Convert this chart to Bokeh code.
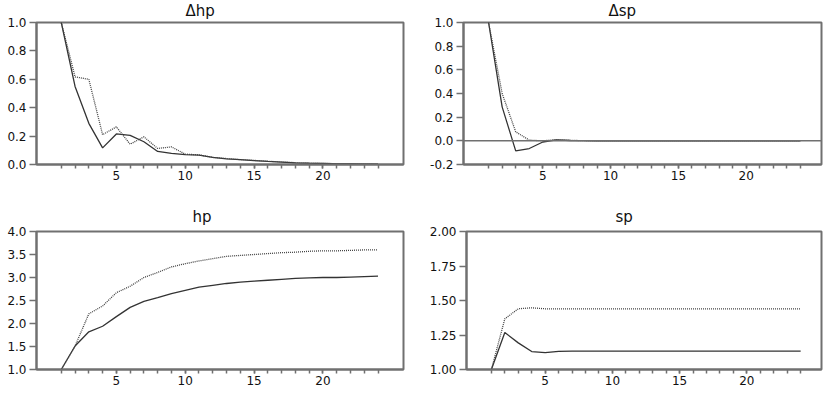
from bokeh.plotting import figure
from bokeh.layouts import column, row
from bokeh.models import Range1d, FixedTicker, Span, Title, NumeralTickFormatter
from bokeh.embed import file_html
from bokeh.resources import INLINE

# ---------------- data ----------------
periods = [1, 2, 3, 4, 5, 6, 7, 8, 9, 10, 11, 12, 13, 14, 15, 16, 17, 18, 19, 20, 21, 22, 23, 24]

dhp_solid = [1.0, 0.55, 0.29, 0.117, 0.215, 0.205, 0.16, 0.092, 0.078, 0.07, 0.066, 0.05,
             0.04, 0.034, 0.028, 0.022, 0.017, 0.012, 0.009, 0.007, 0.005, 0.004, 0.003, 0.003]
dhp_dotted = [1.0, 0.617, 0.60, 0.21, 0.265, 0.143, 0.195, 0.113, 0.124, 0.073, 0.068, 0.05,
              0.042, 0.034, 0.029, 0.023, 0.018, 0.013, 0.01, 0.008, 0.006, 0.005, 0.004, 0.003]

dsp_solid = [1.0, 0.287, -0.085, -0.065, -0.01, 0.008, 0.003, 0.001, 0.0, 0.0, 0.0, 0.0,
             0.0, 0.0, 0.0, 0.0, 0.0, 0.0, 0.0, 0.0, 0.0, 0.0, 0.0, 0.0]
dsp_dotted = [1.0, 0.40, 0.076, 0.006, 0.0, 0.01, 0.005, 0.001, 0.0, 0.0, 0.0, 0.0,
              0.0, 0.0, 0.0, 0.0, 0.0, 0.0, 0.0, 0.0, 0.0, 0.0, 0.0, 0.0]

hp_solid = [1.0, 1.51, 1.82, 1.94, 2.15, 2.35, 2.48, 2.56, 2.65, 2.72, 2.79, 2.83,
            2.87, 2.90, 2.92, 2.94, 2.96, 2.98, 2.99, 3.00, 3.00, 3.01, 3.02, 3.03]
hp_dotted = [1.0, 1.51, 2.21, 2.38, 2.67, 2.81, 3.00, 3.11, 3.23, 3.30, 3.36, 3.41,
             3.46, 3.48, 3.50, 3.52, 3.54, 3.55, 3.57, 3.58, 3.58, 3.59, 3.60, 3.60]

sp_solid = [1.0, 1.268, 1.193, 1.13, 1.122, 1.132, 1.133, 1.133, 1.133, 1.133, 1.133, 1.133,
            1.133, 1.133, 1.133, 1.133, 1.133, 1.133, 1.133, 1.133, 1.133, 1.133, 1.133, 1.133]
sp_dotted = [1.0, 1.367, 1.44, 1.447, 1.44, 1.44, 1.44, 1.44, 1.44, 1.44, 1.44, 1.44,
             1.44, 1.44, 1.44, 1.44, 1.44, 1.44, 1.44, 1.44, 1.44, 1.44, 1.44, 1.44]

titles = ["\u0394hp", "\u0394sp", "hp", "sp"]
x_major = [5, 10, 15, 20]
y_ticks_dhp = [0.0, 0.2, 0.4, 0.6, 0.8, 1.0]
y_ticks_dsp = [-0.2, 0.0, 0.2, 0.4, 0.6, 0.8, 1.0]
y_ticks_hp = [1.0, 1.5, 2.0, 2.5, 3.0, 3.5, 4.0]
y_ticks_sp = [1.00, 1.25, 1.50, 1.75, 2.00]

FONT = "DejaVu Sans"
FRAME = "#707070"
TXT = "#111111"


def make_panel(title, solid, dotted, yr, yticks, xr, w, h, bl, br, bt, bb, toff, tstand, fmt="0.0"):
    p = figure(width=w, height=h, output_backend="svg", toolbar_location=None,
               x_range=Range1d(*xr), y_range=Range1d(*yr),
               min_border_left=bl, min_border_right=br,
               min_border_top=bt, min_border_bottom=bb,
               background_fill_color="white", border_fill_color="white",
               outline_line_color=FRAME, outline_line_width=2)
    t = Title(text=title, align="left", offset=toff, text_font=FONT, text_font_size="15px",
              text_font_style="normal", text_color=TXT, standoff=tstand,
              vertical_align="top")
    p.add_layout(t, "above")
    p.grid.visible = False

    p.line(periods, solid, line_color="#333333", line_width=1.3)
    p.line(periods, dotted, line_color="#444444", line_width=1.3, line_dash="1 1")

    p.yaxis.ticker = FixedTicker(ticks=yticks)
    p.yaxis.formatter = NumeralTickFormatter(format=fmt)
    p.xaxis.ticker = FixedTicker(ticks=x_major, minor_ticks=periods)
    for ax in (p.xaxis[0], p.yaxis[0]):
        ax.axis_line_color = FRAME
        ax.axis_line_width = 2
        ax.major_tick_line_color = FRAME
        ax.major_tick_line_width = 1.5
        ax.minor_tick_line_color = FRAME
        ax.minor_tick_line_width = 1.5
        ax.major_label_text_font = FONT
        ax.major_label_text_font_size = "12px"
        ax.major_label_text_color = TXT
        ax.major_tick_in = 0
        ax.minor_tick_in = 0
    p.yaxis.major_label_standoff = 3
    p.xaxis.major_label_standoff = 2
    p.yaxis.major_tick_out = 7
    p.yaxis.minor_tick_out = 0
    p.xaxis.major_tick_out = 4
    p.xaxis.minor_tick_out = 4
    return p


# column widths / row heights (the layout is pulled over the page margin)
WL, WR = 430, 397
HT, HB = 196, 197
XL = (-0.8, 25.85)
XR = (-0.85, 25.55)

p1 = make_panel(titles[0], dhp_solid, dhp_dotted, (0.0, 1.0), y_ticks_dhp, XL, WL, HT, 40, 23, 26, 28, 149, 2)
p2 = make_panel(titles[1], dsp_solid, dsp_dotted, (-0.2, 1.0), y_ticks_dsp, XR, WR, HT, 37, 2, 26, 28, 145, 2)
p2.add_layout(Span(location=0, dimension="width", line_color=FRAME, line_width=1.5))
p3 = make_panel(titles[2], hp_solid, hp_dotted, (1.0, 4.0), y_ticks_hp, XL, WL, HB, 40, 23, 39, 20, 156, 8)
p4 = make_panel(titles[3], sp_solid, sp_dotted, (1.0, 2.0), y_ticks_sp, XR, WR, HB, 39, 2, 39, 20, 149, 8,
                fmt="0.00")

layout = column(row(p1, p2, spacing=0), row(p3, p4, spacing=0), spacing=0,
                margin=(-4, -4, -4, -4))

open("out.html", "w").write(file_html(layout, INLINE))
